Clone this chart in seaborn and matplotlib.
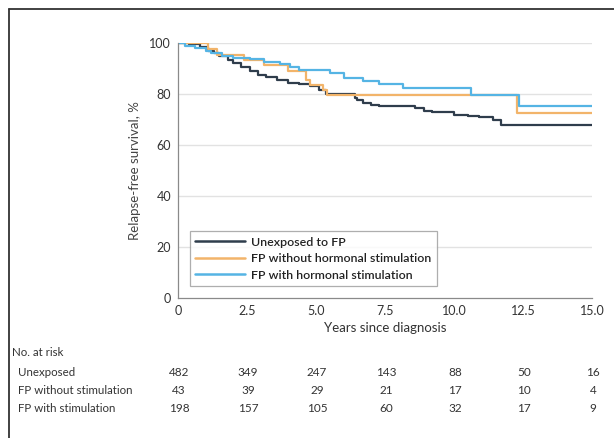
import numpy as np
import pandas as pd
import matplotlib
matplotlib.use("Agg")
import matplotlib.pyplot as plt
from matplotlib.lines import Line2D
import seaborn as sns

# ---- Data ----
groups = ["Unexposed to FP", "FP without hormonal stimulation", "FP with hormonal stimulation"]
colors = ["#2f3d4c", "#f2b46a", "#55b4e4"]

unexp_t = [0, 0.4, 0.8, 1.1, 1.3, 1.5, 1.8, 2.0, 2.3, 2.6, 2.9, 3.2, 3.6, 4.0, 4.4, 4.8, 5.1,
           5.35, 6.4, 6.5, 6.7, 7.0, 7.3, 8.6, 8.9, 9.2, 10.0, 10.5, 10.9, 11.4, 11.7, 15.0]
unexp_s = [100, 99.5, 98.5, 97, 96, 95, 93.5, 92, 90.5, 89, 87.5, 86.5, 85.5, 84.5, 83.8, 83,
           81.5, 80, 78.5, 77.5, 76.5, 75.7, 75.3, 74.5, 73.5, 73, 71.8, 71.5, 71, 69.8, 68, 68]

nostim_t = [0, 1.1, 1.4, 2.4, 3.1, 4.0, 4.65, 4.8, 5.25, 5.4, 12.3, 15.0]
nostim_s = [100, 97.7, 95.3, 93.2, 91.2, 89, 85.5, 83.5, 81.5, 79.5, 72.7, 72.7]

stim_t = [0, 0.25, 0.6, 1.0, 1.2, 1.6, 2.0, 2.6, 3.1, 3.7, 4.05, 4.4, 5.5, 6.0, 6.7, 7.3, 8.15,
          10.6, 12.35, 15.0]
stim_s = [100, 99, 98, 97, 96, 95, 94.2, 93.7, 92.7, 91.8, 90.7, 89.4, 88.1, 86.4, 85, 83.8, 82.2,
          79.6, 75.3, 75.3]

risk_times = [0, 2.5, 5.0, 7.5, 10.0, 12.5, 15.0]
risk_labels = ["Unexposed", "FP without stimulation", "FP with stimulation"]
risk_unexp = [482, 349, 247, 143, 88, 50, 16]
risk_nostim = [43, 39, 29, 21, 17, 10, 4]
risk_stim = [198, 157, 105, 60, 32, 17, 9]

frames = []
for name, t, s in zip(groups, [unexp_t, nostim_t, stim_t], [unexp_s, nostim_s, stim_s]):
    frames.append(pd.DataFrame({"time": t, "surv": s, "group": name}))
df = pd.concat(frames, ignore_index=True)

sns.set_style("white")
plt.rcParams["font.family"] = ["Lato", "DejaVu Sans"]

W, H = 614, 438
fig = plt.figure(figsize=(W / 100, H / 100), dpi=100)
ax = fig.add_axes([178 / W, 1 - 298 / H, 414 / W, 255 / H])

sns.lineplot(data=df, x="time", y="surv", hue="group", hue_order=groups,
             palette=dict(zip(groups, colors)), estimator=None, sort=False,
             drawstyle="steps-post", linewidth=1.6, legend=False, ax=ax)

ax.set_xlim(0, 15)
ax.set_ylim(0, 100)
ax.set_xticks(risk_times)
ax.set_xticklabels(["0", "2.5", "5.0", "7.5", "10.0", "12.5", "15.0"])
ax.set_yticks([0, 20, 40, 60, 80, 100])
for v in [20, 40, 60, 80, 100]:
    ax.axhline(v, color="#e2e2e2", linewidth=1.0, zorder=0)
for sp in ["top", "right"]:
    ax.spines[sp].set_visible(False)
for sp in ["left", "bottom"]:
    ax.spines[sp].set_color("#8a8a8a")
    ax.spines[sp].set_linewidth(0.9)
ax.tick_params(axis="both", direction="inout", length=4, width=0.8, color="#8a8a8a",
               labelsize=9, labelcolor="#333333", pad=3)
ax.set_xlabel("Years since diagnosis", fontsize=9.5, color="#333333", labelpad=4)
ax.set_ylabel("Relapse-free survival, %", fontsize=9.5, color="#444444", labelpad=6)

handles = [Line2D([0], [0], color=c, linewidth=1.8) for c in colors]
leg = ax.legend(handles, groups, loc="lower left", bbox_to_anchor=(0.013, 0.022),
                fontsize=8.9, handlelength=4.0, handletextpad=0.5, borderpad=0.45,
                labelspacing=0.45, fancybox=False, frameon=True)
leg.get_frame().set_edgecolor("#9a9a9a")
leg.get_frame().set_linewidth(0.9)
for txt in leg.get_texts():
    txt.set_fontweight("semibold")
    txt.set_color("#222222")

# ---- No. at risk table ----
fig.text(12 / W, 1 - 353 / H, "No. at risk", fontsize=8.3, color="#333333", va="center")
rows_y = [373, 391, 408]
for lab, vals, yp in zip(risk_labels, [risk_unexp, risk_nostim, risk_stim], rows_y):
    fig.text(18 / W, 1 - yp / H, lab, fontsize=8.3, color="#333333", va="center")
    for t, v in zip(risk_times, vals):
        xd = ax.transData.transform((t, 0))[0]
        fig.text(xd / W + 1 / W, 1 - yp / H, str(v), fontsize=8.5, color="#333333",
                 va="center", ha="center")

# outer frame (top and left edges visible)
fig.add_artist(Line2D([8.5 / W, 8.5 / W], [0, 1 - 9 / H], color="#333333", linewidth=1.3,
                      transform=fig.transFigure))
fig.add_artist(Line2D([8.5 / W, 1], [1 - 9 / H, 1 - 9 / H], color="#333333", linewidth=1.3,
                      transform=fig.transFigure))

plt.savefig("out.png", dpi=100)
plt.close()
